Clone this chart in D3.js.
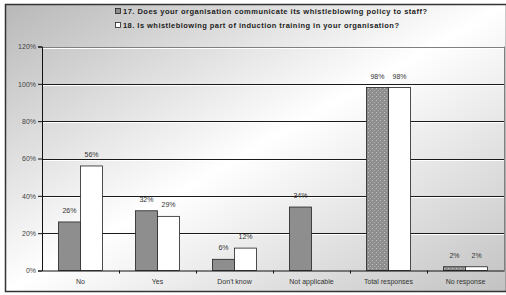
<!DOCTYPE html>
<html lang="en">
<head>
<meta charset="UTF-8">
<title>Whistleblowing policy</title>
<script src="https://d3js.org/d3.v7.min.js"></script>
<style>
  body { margin: 0; background: #fff; }
  text { font-family: "Liberation Sans", Arial, sans-serif; }
</style>
</head>
<body>
<script>
// data
var categories = ["No", "Yes", "Don't know", "Not applicable", "Total responses", "No response"];
var q17 = [26, 32, 6, 34, 98, 2];
var q18 = [56, 29, 12, null, 98, 2];
var seriesNames = [
  "17. Does your organisation communicate its whistleblowing policy to staff?",
  "18. Is whistleblowing part of induction training in your organisation?"
];
var yTicks = [0, 20, 40, 60, 80, 100, 120];
var dotted = ["Total responses", "No response"];

var width = 506, height = 295;
var plot = {left: 42, right: 504, top: 46.5, bottom: 270.5};

var svg = d3.select("body").append("svg")
    .attr("width", width)
    .attr("height", height);

var defs = svg.append("defs");
var grad = defs.append("linearGradient")
    .attr("id", "bg").attr("x1", 0).attr("y1", 0).attr("x2", 1).attr("y2", 1);
grad.append("stop").attr("offset", "0%").attr("stop-color", "#b8b8b8");
grad.append("stop").attr("offset", "50%").attr("stop-color", "#ffffff");
grad.append("stop").attr("offset", "100%").attr("stop-color", "#c2c2c2");

var pat = defs.append("pattern")
    .attr("id", "dots").attr("patternUnits", "userSpaceOnUse")
    .attr("width", 4).attr("height", 4);
pat.append("rect").attr("width", 4).attr("height", 4).attr("fill", "#8e8e8e");
pat.append("rect").attr("x", 0).attr("y", 0).attr("width", 1).attr("height", 1).attr("fill", "#c4c4c4");
pat.append("rect").attr("x", 2).attr("y", 2).attr("width", 1).attr("height", 1).attr("fill", "#b0b0b0");

// background + frame
svg.append("rect")
    .attr("x", 5.5).attr("y", 4.5)
    .attr("width", width - 5).attr("height", 287)
    .attr("fill", "url(#bg)")
    .attr("stroke", "#333").attr("stroke-width", 1.5);

var x = d3.scaleBand()
    .domain(categories)
    .range([plot.left, plot.right]);

var y = d3.scaleLinear()
    .domain([0, 120])
    .range([plot.bottom, plot.top]);

var barW = x.bandwidth() * 0.287;

// gridlines
var grid = svg.append("g");
yTicks.slice(1).forEach(function(t) {
  grid.append("line")
      .attr("x1", plot.left).attr("x2", plot.right)
      .attr("y1", Math.round(y(t)) + 1.5).attr("y2", Math.round(y(t)) + 1.5)
      .attr("stroke", "#fff");
  grid.append("line")
      .attr("x1", plot.left).attr("x2", plot.right)
      .attr("y1", Math.round(y(t)) + 0.5).attr("y2", Math.round(y(t)) + 0.5)
      .attr("stroke", t == 120 ? "#808080" : "#1a1a1a");
});
svg.append("line")
    .attr("x1", plot.right + 0.5).attr("x2", plot.right + 0.5)
    .attr("y1", plot.top).attr("y2", plot.bottom)
    .attr("stroke", "#808080");

// bars
var rows = categories.map(function(c, i) { return {cat: c, a: q17[i], b: q18[i]}; });
var g = svg.append("g");

g.selectAll(".bar1").data(rows).enter().append("rect")
    .attr("x", function(d) { return x(d.cat) + x.bandwidth() / 2 - barW; })
    .attr("y", function(d) { return y(d.a); })
    .attr("width", barW)
    .attr("height", function(d) { return y(0) - y(d.a); })
    .attr("fill", function(d) { return dotted.indexOf(d.cat) >= 0 ? "url(#dots)" : "#8e8e8e"; })
    .attr("stroke", "#222").attr("stroke-width", 0.8);

g.selectAll(".bar2").data(rows.filter(function(d) { return d.b != null; })).enter().append("rect")
    .attr("x", function(d) { return x(d.cat) + x.bandwidth() / 2; })
    .attr("y", function(d) { return y(d.b); })
    .attr("width", barW)
    .attr("height", function(d) { return y(0) - y(d.b); })
    .attr("fill", "#fff")
    .attr("stroke", "#222").attr("stroke-width", 0.8);

// value labels
g.selectAll(".lab1").data(rows).enter().append("text")
    .attr("x", function(d) { return x(d.cat) + x.bandwidth() / 2 - barW / 2; })
    .attr("y", function(d) { return y(d.a) - 9; })
    .attr("text-anchor", "middle")
    .attr("font-size", 7).attr("fill", "#333")
    .text(function(d) { return d.a + "%"; });

g.selectAll(".lab2").data(rows.filter(function(d) { return d.b != null; })).enter().append("text")
    .attr("x", function(d) { return x(d.cat) + x.bandwidth() / 2 + barW / 2; })
    .attr("y", function(d) { return y(d.b) - 9; })
    .attr("text-anchor", "middle")
    .attr("font-size", 7).attr("fill", "#333")
    .text(function(d) { return d.b + "%"; });

// axes
var yAxis = svg.append("g")
    .attr("transform", "translate(" + plot.left + ",0)")
    .call(d3.axisLeft(y).tickValues(yTicks).tickSize(4).tickPadding(2)
      .tickFormat(function(d) { return d + "%"; }));
yAxis.select(".domain").attr("stroke", "#111");
yAxis.selectAll(".tick line").attr("stroke", "#111");
yAxis.selectAll(".tick text")
    .attr("font-size", 7).attr("fill", "#444")
    .style("font-family", "'Liberation Sans', Arial, sans-serif");

var xAxis = svg.append("g")
    .attr("transform", "translate(0," + plot.bottom + ")")
    .call(d3.axisBottom(x).tickSize(0).tickPadding(9));
xAxis.select(".domain").attr("stroke", "#111");
xAxis.selectAll(".tick text")
    .attr("font-size", 7).attr("fill", "#333")
    .style("font-family", "'Liberation Sans', Arial, sans-serif");
// category boundary ticks
xAxis.selectAll(".sep").data(categories.slice(1)).enter().append("line")
    .attr("x1", function(d) { return Math.round(x(d)) + 0.5; })
    .attr("x2", function(d) { return Math.round(x(d)) + 0.5; })
    .attr("y1", 0).attr("y2", 3)
    .attr("stroke", "#111");

// legend
var legend = svg.append("g");
seriesNames.forEach(function(name, i) {
  var ly = 14 + i * 14;
  legend.append("rect")
      .attr("x", 115.5).attr("y", ly - 5.5)
      .attr("width", 5).attr("height", 5)
      .attr("fill", i == 0 ? "#8e8e8e" : "#fff")
      .attr("stroke", "#222").attr("stroke-width", 0.8);
  legend.append("text")
      .attr("x", 123).attr("y", ly)
      .attr("font-size", 7.5).attr("font-weight", "bold").attr("fill", "#222")
      .attr("textLength", i == 0 ? 304 : 276)
      .attr("lengthAdjust", "spacing")
      .text(name);
});
</script>
</body>
</html>
